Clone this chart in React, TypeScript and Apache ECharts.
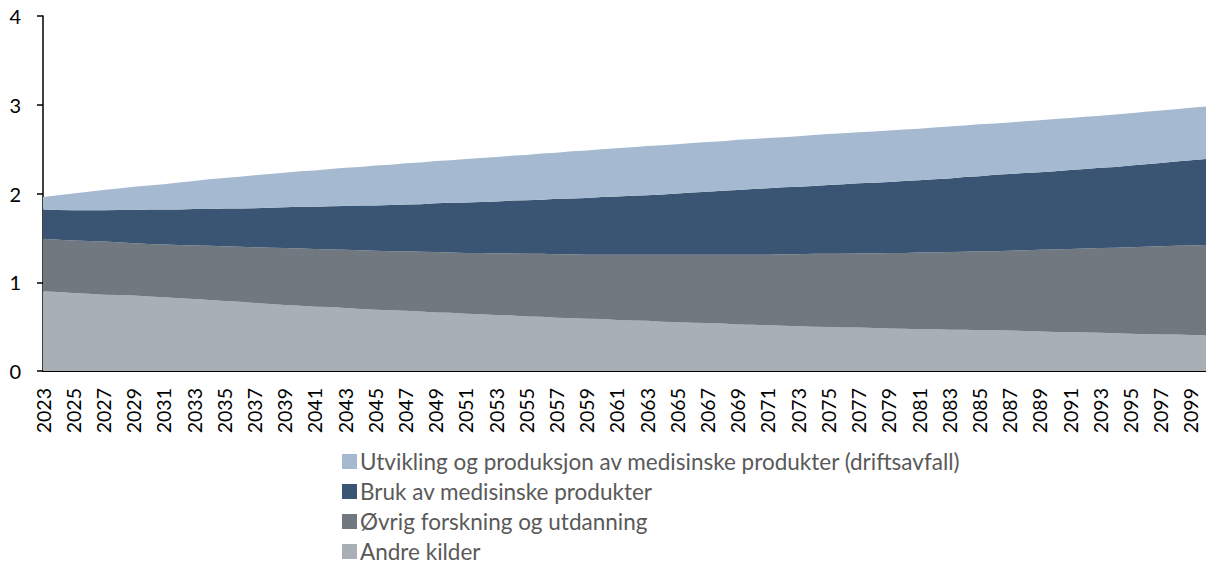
import React, { useEffect, useRef } from "react";
import * as echarts from "echarts";

const years: string[] = [
  "2023","2024","2025","2026","2027","2028","2029","2030","2031","2032",
  "2033","2034","2035","2036","2037","2038","2039","2040","2041","2042",
  "2043","2044","2045","2046","2047","2048","2049","2050","2051","2052",
  "2053","2054","2055","2056","2057","2058","2059","2060","2061","2062",
  "2063","2064","2065","2066","2067","2068","2069","2070","2071","2072",
  "2073","2074","2075","2076","2077","2078","2079","2080","2081","2082",
  "2083","2084","2085","2086","2087","2088","2089","2090","2091","2092",
  "2093","2094","2095","2096","2097","2098","2099","2100",
];

const andreKilder: number[] = [
  0.90,0.89,0.88,0.87,0.86,0.855,0.85,0.84,0.83,0.82,
  0.81,0.80,0.79,0.78,0.765,0.755,0.745,0.735,0.725,0.72,
  0.71,0.70,0.69,0.685,0.68,0.67,0.66,0.655,0.645,0.64,
  0.63,0.625,0.615,0.61,0.60,0.595,0.59,0.585,0.575,0.57,
  0.565,0.555,0.55,0.545,0.54,0.535,0.525,0.52,0.515,0.51,
  0.505,0.50,0.495,0.49,0.49,0.485,0.48,0.475,0.47,0.47,
  0.465,0.465,0.46,0.46,0.455,0.45,0.445,0.44,0.44,0.435,
  0.43,0.425,0.42,0.415,0.41,0.41,0.405,0.40,
];

const ovrigForskning: number[] = [
  0.59,0.59,0.59,0.595,0.60,0.595,0.59,0.59,0.595,0.60,
  0.605,0.61,0.615,0.62,0.63,0.635,0.64,0.645,0.65,0.65,
  0.655,0.66,0.665,0.665,0.67,0.675,0.68,0.68,0.685,0.69,
  0.695,0.70,0.705,0.71,0.715,0.72,0.72,0.725,0.735,0.74,
  0.745,0.755,0.76,0.765,0.77,0.775,0.785,0.79,0.795,0.805,
  0.81,0.82,0.825,0.83,0.835,0.84,0.85,0.855,0.865,0.865,
  0.875,0.88,0.89,0.89,0.90,0.91,0.92,0.93,0.935,0.945,
  0.955,0.965,0.975,0.985,0.995,1.00,1.01,1.02,
];

const brukMedisinske: number[] = [
  0.33,0.335,0.34,0.345,0.35,0.365,0.375,0.39,0.395,0.40,
  0.41,0.415,0.425,0.43,0.44,0.45,0.46,0.47,0.475,0.485,
  0.495,0.505,0.51,0.52,0.525,0.535,0.55,0.56,0.57,0.575,
  0.585,0.595,0.605,0.61,0.625,0.63,0.64,0.65,0.655,0.665,
  0.67,0.68,0.69,0.70,0.71,0.72,0.73,0.74,0.75,0.755,
  0.76,0.765,0.775,0.785,0.79,0.795,0.80,0.81,0.815,0.825,
  0.83,0.84,0.845,0.86,0.865,0.87,0.875,0.88,0.89,0.895,
  0.905,0.91,0.92,0.93,0.94,0.95,0.96,0.97,
];

const utviklingProduksjon: number[] = [
  0.14,0.165,0.19,0.21,0.23,0.24,0.26,0.27,0.285,0.305,
  0.315,0.335,0.345,0.36,0.37,0.38,0.39,0.40,0.41,0.42,
  0.43,0.435,0.45,0.455,0.465,0.47,0.475,0.48,0.49,0.495,
  0.50,0.505,0.51,0.52,0.52,0.53,0.535,0.54,0.545,0.545,
  0.555,0.555,0.555,0.56,0.56,0.56,0.565,0.565,0.565,0.565,
  0.57,0.575,0.575,0.575,0.575,0.58,0.58,0.58,0.58,0.585,
  0.585,0.58,0.585,0.58,0.58,0.585,0.585,0.59,0.585,0.59,
  0.585,0.59,0.59,0.59,0.59,0.59,0.59,0.59,
];

const seriesNames = [
  "Utvikling og produksjon av medisinske produkter (driftsavfall)",
  "Bruk av medisinske produkter",
  "Øvrig forskning og utdanning",
  "Andre kilder",
];

const yTicks = { min: 0, max: 4, interval: 1 };

export default function App() {
  const ref = useRef<HTMLDivElement>(null);

  useEffect(() => {
    if (!ref.current) return;
    const chart = echarts.init(ref.current, undefined, { renderer: "svg" });
    const font = "Lato, 'Open Sans', sans-serif";
    const mk = (name: string, data: number[], color: string) => ({
      name,
      type: "line",
      stack: "total",
      data,
      symbol: "none",
      showSymbol: false,
      lineStyle: { width: 0, color },
      itemStyle: { color },
      areaStyle: { color, opacity: 1 },
      emphasis: { disabled: true },
    });
    chart.setOption({
      animation: false,
      grid: { left: 43, right: 0, top: 16, bottom: 194, containLabel: false },
      legend: {
        orient: "vertical",
        left: 342,
        top: 450,
        height: 115,
        padding: 0,
        itemWidth: 15,
        itemHeight: 15,
        itemGap: 7,
        icon: "rect",
        data: seriesNames,
        textStyle: {
          fontFamily: font,
          fontSize: 22.5,
          color: "#595959",
          padding: [0, 0, 0, -2],
        },
      },
      xAxis: {
        type: "category",
        data: years,
        boundaryGap: false,
        axisLine: { show: true, lineStyle: { color: "#000", width: 2 } },
        axisTick: { show: false },
        axisLabel: {
          interval: 1,
          rotate: 90,
          margin: 17,
          color: "#000",
          fontFamily: font,
          fontSize: 19.5,
        },
        splitLine: { show: false },
      },
      yAxis: {
        type: "value",
        min: yTicks.min,
        max: yTicks.max,
        interval: yTicks.interval,
        axisLine: { show: true, lineStyle: { color: "#000", width: 1.5 } },
        axisTick: { show: true, length: 6, lineStyle: { color: "#000", width: 1.5 } },
        axisLabel: {
          margin: 22,
          color: "#000",
          fontFamily: font,
          fontSize: 20,
        },
        splitLine: { show: false },
      },
      series: [
        mk(seriesNames[3], andreKilder, "#A9AFB6"),
        mk(seriesNames[2], ovrigForskning, "#72787F"),
        mk(seriesNames[1], brukMedisinske, "#3A5573"),
        mk(seriesNames[0], utviklingProduksjon, "#A5B9D0"),
      ],
    });
    return () => chart.dispose();
  }, []);

  return (
    <div
      ref={ref}
      style={{ position: "absolute", left: 0, top: 0, width: 1206, height: 565 }}
    />
  );
}
